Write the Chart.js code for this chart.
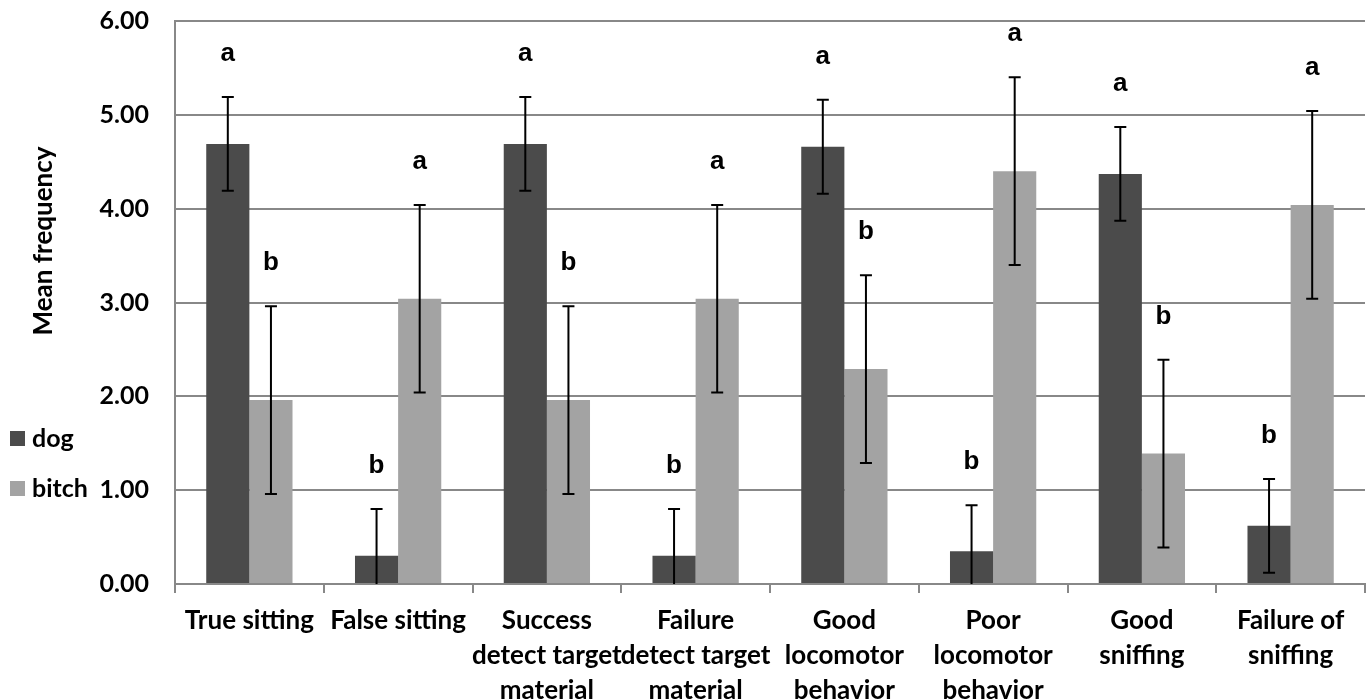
<!DOCTYPE html>
<html>
<head>
<meta charset="utf-8">
<title>Mean frequency by behaviour: dog vs bitch</title>
<script src="https://cdn.jsdelivr.net/npm/chart.js@4/dist/chart.umd.min.js"></script>
<style>
  html, body { margin: 0; padding: 0; background: #ffffff; }
  #wrap { width: 1369px; height: 700px; position: relative; }
</style>
</head>
<body>
<div id="wrap"><canvas id="chart" width="1369" height="700"></canvas></div>
<script>
// Behaviour categories (multi-line axis labels)
const categories = [
  ["True sitting"],
  ["False sitting"],
  ["Success", "detect target", "material"],
  ["Failure", "detect target", "material"],
  ["Good", "locomotor", "behavior"],
  ["Poor", "locomotor", "behavior"],
  ["Good", "sniffing"],
  ["Failure of", "sniffing"]
];

// Mean frequencies per group
const dogMeans   = [4.69, 0.30, 4.69, 0.30, 4.66, 0.35, 4.37, 0.62];
const bitchMeans = [1.96, 3.04, 1.96, 3.04, 2.29, 4.40, 1.39, 4.04];

// Error bar half-lengths
const dogErrors   = [0.50, 0.50, 0.50, 0.50, 0.50, 0.49, 0.50, 0.50];
const bitchErrors = [1.00, 1.00, 1.00, 1.00, 1.00, 1.00, 1.00, 1.00];

// Significance letters above each bar
const dogLetters   = ["a", "b", "a", "b", "a", "b", "a", "b"];
const bitchLetters = ["b", "a", "b", "a", "b", "a", "b", "a"];

// Value axis
const yMin = 0, yMax = 6, yStep = 1;
const yTitle = "Mean frequency";

const DOG_COLOR = "#4b4b4b";
const BITCH_COLOR = "#a3a3a3";
const GRID_COLOR = "#888888";
const LABEL_FONT = "Lato";

const errorsByDataset = [dogErrors, bitchErrors];
const lettersByDataset = [dogLetters, bitchLetters];

// Draws error bars, significance letters, the legend and the y-axis title
const annotations = {
  id: "annotations",
  afterDatasetsDraw(chart) {
    const ctx = chart.ctx;
    const y = chart.scales.y;
    const area = chart.chartArea;
    chart.data.datasets.forEach((ds, di) => {
      const meta = chart.getDatasetMeta(di);
      const errs = errorsByDataset[di];
      const letters = lettersByDataset[di];
      meta.data.forEach((bar, i) => {
        const v = ds.data[i];
        const e = errs[i];
        const hi = v + e;
        const lo = v - e;
        const x = bar.x;
        const yHi = y.getPixelForValue(hi);
        const yLo = lo >= 0 ? y.getPixelForValue(lo) : area.bottom;
        ctx.save();
        ctx.strokeStyle = "#000000";
        ctx.lineWidth = 2;
        ctx.beginPath();
        ctx.moveTo(x, yHi);
        ctx.lineTo(x, yLo);
        ctx.moveTo(x - 6, yHi);
        ctx.lineTo(x + 6, yHi);
        if (lo >= 0) {
          ctx.moveTo(x - 6, yLo);
          ctx.lineTo(x + 6, yLo);
        }
        ctx.stroke();
        // significance letter
        ctx.fillStyle = "#000000";
        ctx.font = "bold 26px 'Liberation Sans', Arial, sans-serif";
        ctx.textAlign = "center";
        ctx.textBaseline = "middle";
        ctx.fillText(letters[i], x, yHi - 43);
        ctx.restore();
      });
    });

    // legend
    ctx.save();
    ctx.font = "bold 25px " + LABEL_FONT;
    ctx.textAlign = "left";
    ctx.textBaseline = "middle";
    const legendRows = [439, 489];
    chart.data.datasets.forEach((ds, di) => {
      const cy = legendRows[di];
      ctx.fillStyle = ds.backgroundColor;
      ctx.fillRect(10, cy - 8, 15, 15);
      ctx.fillStyle = "#000000";
      ctx.fillText(ds.label, 32, cy);
    });
    ctx.restore();

    // y-axis title
    ctx.save();
    ctx.translate(44, 241);
    ctx.rotate(-Math.PI / 2);
    ctx.font = "bold 26px " + LABEL_FONT;
    ctx.fillStyle = "#000000";
    ctx.textAlign = "center";
    ctx.textBaseline = "middle";
    ctx.fillText(yTitle, 0, 0);
    ctx.restore();
  }
};

new Chart(document.getElementById("chart"), {
  type: "bar",
  data: {
    labels: categories,
    datasets: [
      { label: "dog", data: dogMeans, backgroundColor: DOG_COLOR, borderWidth: 0,
        categoryPercentage: 0.58, barPercentage: 1.0 },
      { label: "bitch", data: bitchMeans, backgroundColor: BITCH_COLOR, borderWidth: 0,
        categoryPercentage: 0.58, barPercentage: 1.0 }
    ]
  },
  options: {
    responsive: false,
    animation: false,
    devicePixelRatio: 1,
    layout: { padding: { top: 21, right: 4, left: 0, bottom: 0 } },
    plugins: {
      legend: { display: false },
      tooltip: { enabled: false }
    },
    scales: {
      x: {
        grid: { offset: true, drawOnChartArea: false, drawTicks: true, tickLength: 9,
                color: GRID_COLOR, lineWidth: 2 },
        border: { color: GRID_COLOR, width: 2 },
        ticks: {
          color: "#000000",
          font: { family: LABEL_FONT, weight: "bold", size: 26, lineHeight: 1.35 },
          maxRotation: 0, minRotation: 0, autoSkip: false, padding: 10
        },
        afterFit(scale) { scale.height = 116; }
      },
      y: {
        min: yMin, max: yMax,
        grid: { color: GRID_COLOR, lineWidth: 2, drawTicks: true, tickLength: 26,
                tickColor: "rgba(0,0,0,0)" },
        border: { color: GRID_COLOR, width: 2 },
        ticks: {
          stepSize: yStep,
          color: "#000000",
          font: { family: LABEL_FONT, weight: "bold", size: 25 },
          padding: 0,
          callback: (v) => Number(v).toFixed(2)
        },
        afterFit(scale) { scale.width = 175; }
      }
    }
  },
  plugins: [annotations]
});
</script>
</body>
</html>
